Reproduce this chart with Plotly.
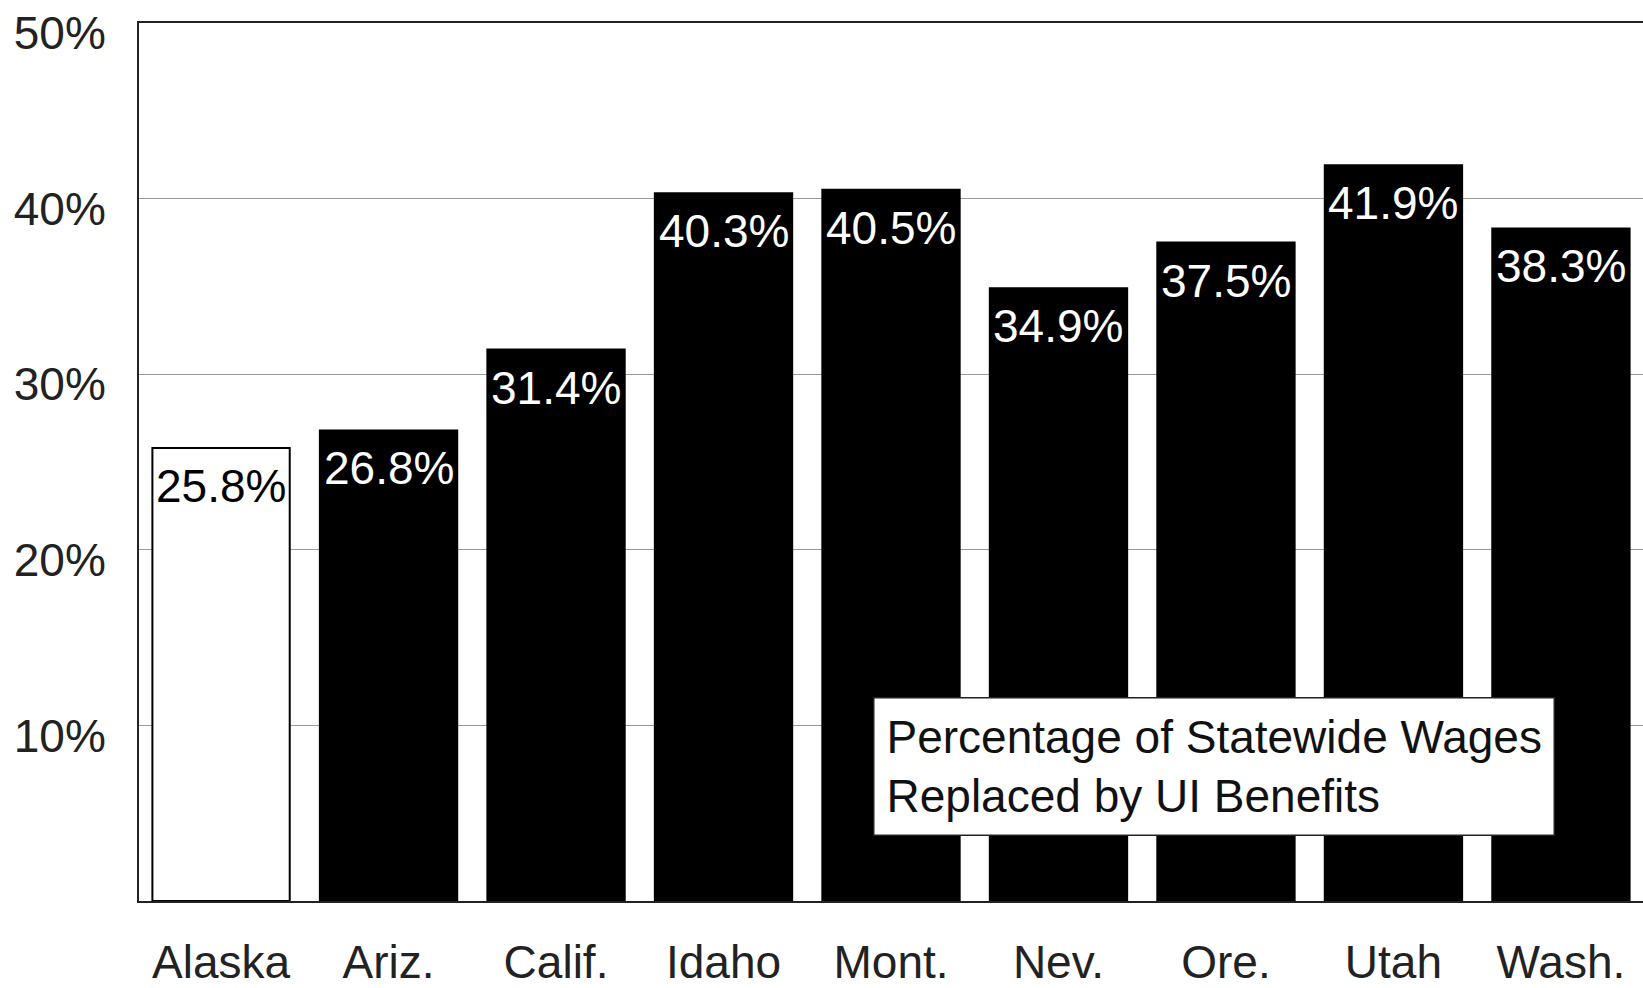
import plotly.graph_objects as go

states = ["Alaska", "Ariz.", "Calif.", "Idaho", "Mont.", "Nev.", "Ore.", "Utah", "Wash."]
replacement_pct = [25.8, 26.8, 31.4, 40.3, 40.5, 34.9, 37.5, 41.9, 38.3]
y_ticks = [10, 20, 30, 40, 50]
y_tick_labels = ["10%", "20%", "30%", "40%", "50%"]

fill_colors = ["white"] + ["black"] * (len(states) - 1)
text_colors = ["black"] + ["white"] * (len(states) - 1)

FONT = "Liberation Sans, Arial, sans-serif"

fig = go.Figure(
    go.Bar(
        x=states,
        y=replacement_pct,
        marker=dict(color=fill_colors, line=dict(color="black", width=2)),
        showlegend=False,
        hoverinfo="skip",
    )
)

# value labels near the top of each bar
for s, v, c in zip(states, replacement_pct, text_colors):
    fig.add_annotation(
        x=s, y=v, xref="x", yref="y",
        text=f"{v:.1f}%",
        showarrow=False,
        yanchor="top", yshift=-10,
        font=dict(family=FONT, size=46, color=c),
    )

fig.add_annotation(
    xref="paper", yref="paper",
    x=(873 - 139) / (1643 - 139), y=(907 - 702) / (907 - 23),
    xanchor="left", yanchor="top",
    text="Percentage of Statewide Wages<br>Replaced by UI Benefits",
    align="left",
    showarrow=False,
    font=dict(family=FONT, size=46, color="#111"),
    bgcolor="white",
    bordercolor="#222",
    borderwidth=1.5,
    borderpad=12,
)

fig.update_layout(
    width=1643, height=988,
    margin=dict(l=139, r=0, t=23, b=81),
    paper_bgcolor="white",
    plot_bgcolor="white",
    bargap=0.18,
    font=dict(family=FONT, color="#222"),
    xaxis=dict(
        range=[-0.49, 8.49],
        showline=True, linecolor="#222", linewidth=2, mirror=True,
        ticks="", showgrid=False,
        tickfont=dict(size=46, color="#222"),
        ticklabelstandoff=20,
    ),
    yaxis=dict(
        range=[0, 50],
        tickvals=y_ticks, ticktext=y_tick_labels,
        showline=True, linecolor="#222", linewidth=2,
        showgrid=True, gridcolor="#999", gridwidth=1,
        zeroline=False, ticks="",
        tickfont=dict(size=46, color="#222"),
        ticklabelstandoff=22,
        ticklabelshift=10,
    ),
)

fig.write_html("out.html")
